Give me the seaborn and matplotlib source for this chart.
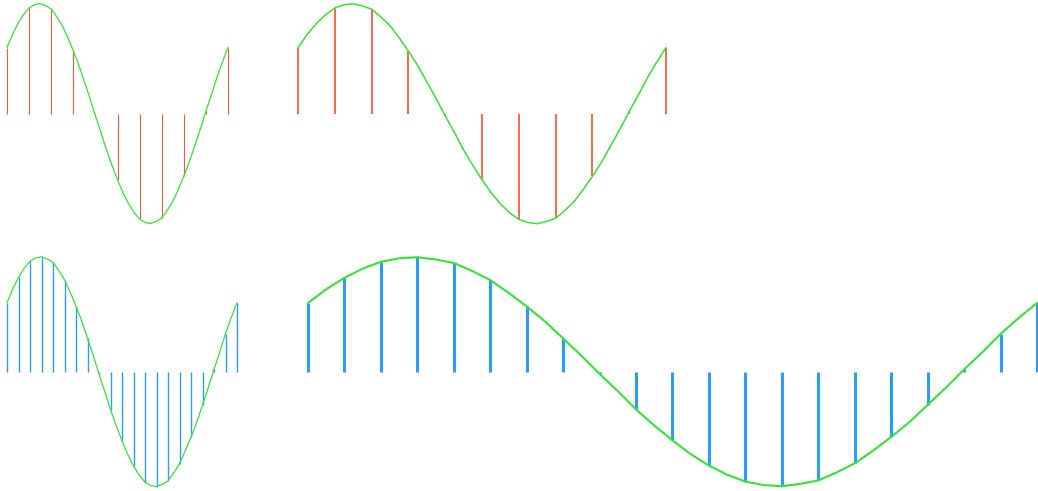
import numpy as np
import matplotlib
matplotlib.use('Agg')
import matplotlib.pyplot as plt
import seaborn as sns

sns.set_style('white')

# one period of the green reference wave (normalised height)
curve = [0.60, 0.72, 0.82, 0.90, 0.96, 0.99, 1.00, 0.98, 0.95, 0.88,
         0.80, 0.69, 0.57, 0.44, 0.29, 0.14, -0.02, -0.17, -0.33, -0.47,
         -0.60, -0.72, -0.82, -0.90, -0.96, -0.99, -1.00, -0.98, -0.95, -0.88,
         -0.80, -0.69, -0.57, -0.44, -0.29, -0.14, 0.02, 0.17, 0.33, 0.47, 0.60]

# sampled values (stems)
samples_11 = [0.60, 0.96, 0.95, 0.57, -0.02, -0.60, -0.96, -0.95, -0.57, 0.02, 0.60]
samples_21 = [0.60, 0.82, 0.96, 1.00, 0.95, 0.80, 0.57, 0.29, -0.02, -0.33, -0.60,
              -0.82, -0.96, -1.00, -0.95, -0.80, -0.57, -0.29, 0.02, 0.33, 0.60]

red = '#ff5a38'
blue = '#2a9dff'
green = '#33e633'

W, H = 1038, 491
fig = plt.figure(figsize=(W / 100, H / 100), dpi=100)

def panel(x0, x1, base, amp, vals, color, stem_lw, line_lw):
    ax = fig.add_axes([x0 / W, (H - base - amp) / H, (x1 - x0) / W, 2 * amp / H])
    xs = np.linspace(0, 1, len(vals))
    ax.vlines(xs, 0, vals, color=color, linewidth=stem_lw, clip_on=False)
    cx = np.linspace(0, 1, len(curve))
    sns.lineplot(x=cx, y=curve, ax=ax, color=green, linewidth=line_lw, clip_on=False)
    ax.set_xlim(0, 1)
    ax.set_ylim(-1, 1)
    ax.axis('off')
    return ax

panel(7, 228, 113.5, 110, samples_11, red, 0.8, 0.9)
panel(298, 666, 113.7, 110, samples_11, red, 1.3, 1.1)
panel(7, 237, 371.7, 115, samples_21, blue, 1.0, 0.9)
panel(308, 1037, 371.7, 114.5, samples_21, blue, 2.2, 1.5)

fig.savefig('out.png', dpi=100)
